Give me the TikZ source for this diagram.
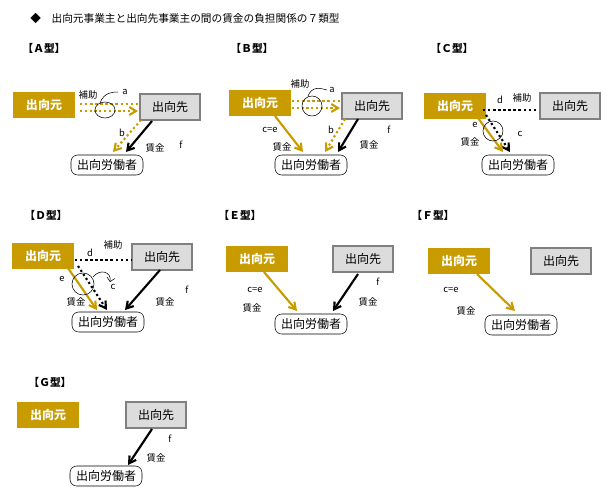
\documentclass[tikz,border=0pt]{standalone}
\usepackage{fontspec}
\setmainfont{Noto Sans CJK JP}
\usetikzlibrary{positioning,arrows.meta}
\definecolor{gold}{HTML}{C89B00}
\definecolor{sakigray}{HTML}{DCDCDC}
\tikzset{
  moto/.style={fill=gold,text=white,font=\bfseries\fontsize{9}{9}\selectfont,minimum width=46.5pt,minimum height=19pt,inner sep=0pt},
  saki/.style={fill=sakigray,draw=gray,thick,font=\fontsize{9}{9}\selectfont,minimum width=45pt,minimum height=19.5pt,inner sep=0pt},
  rodo/.style={draw,rounded corners=5pt,font=\fontsize{9}{9}\selectfont,minimum width=54pt,minimum height=15pt,inner sep=0pt},
  lbl/.style={font=\fontsize{7}{7}\selectfont,inner sep=0pt},
  ttl/.style={font=\bfseries\fontsize{8}{8}\selectfont,inner sep=0pt},
  pay/.style={-{Straight Barb[length=5pt,width=6pt]},line width=1.6pt},
  hojo/.style={dotted,line width=1.8pt},
  ring/.style={thin},
}
\begin{document}
\begin{tikzpicture}[x=0.75pt,y=-0.75pt]
\useasboundingbox (0,0) rectangle (613,501);
\node[lbl,anchor=west,font=\fontsize{8}{8}\selectfont] (title) at (30,18) {◆\quad 出向元事業主と出向先事業主の間の賃金の負担関係の７類型};

% A
\node[ttl] (tA) at (44,48) {【Ａ型】};
\node[moto] (motoA) at (44,105) {出向元};
\node[saki] (sakiA) at (170,107) {出向先};
\node[rodo] (rodoA) at (107,165) {出向労働者};
\draw[hojo,gold] (80,104) -- (138,104);
\draw[hojo,gold,pay] (80,111) -- (138,111);
\draw[hojo,gold,pay] (141,120) -- (113,152);
\draw[pay] (152,121) -- (126,152);
\draw[ring] (105,110) ellipse (10 and 8);
\draw[ring] (100,103) .. controls (104,92) and (113,92) .. (118,92);
\node[lbl] (hojoA) at (88,95) {補助};
\node[lbl] (aA) at (125,92) {a};
\node[lbl] (bA) at (122,133) {b};
\node[lbl] (chinA) at (155,148) {賃金};
\node[lbl] (fA) at (181,145) {f};

% B
\node[ttl] (tB) at (252,48) {【Ｂ型】};
\node[moto] (motoB) at (260,103) {出向元};
\node[saki] (sakiB) at (372,106) {出向先};
\node[rodo] (rodoB) at (311,165) {出向労働者};
\draw[hojo,gold] (292,101) -- (340,101);
\draw[hojo,gold,pay] (292,108) -- (340,108);
\draw[hojo,gold,pay] (345,119) -- (325,152);
\draw[pay] (358,119) -- (338,152);
\draw[pay,gold] (275,116) -- (303,152);
\draw[ring] (312,106) ellipse (10 and 10);
\draw[ring] (308,96) .. controls (312,86) and (320,88) .. (327,90);
\node[lbl] (hojoB) at (300,84) {補助};
\node[lbl] (aB) at (332,90) {a};
\node[lbl] (bB) at (331,130) {b};
\node[lbl] (ceB) at (270,130) {c=e};
\node[lbl] (chinB1) at (282,147) {賃金};
\node[lbl] (chinB2) at (369,145) {賃金};
\node[lbl] (fB) at (389,130) {f};

% C
\node[ttl] (tC) at (452,48) {【Ｃ型】};
\node[moto] (motoC) at (455,106) {出向元};
\node[saki] (sakiC) at (570,106) {出向先};
\node[rodo] (rodoC) at (518,165) {出向労働者};
\draw[hojo] (483,110) -- (537,110);
\draw[hojo,pay] (486,115) -- (510,152);
\draw[pay,gold] (478,118) -- (503,152);
\draw[ring] (493,131) circle (10);
\node[lbl] (dC) at (500,100) {d};
\node[lbl] (hojoC) at (522,98) {補助};
\node[lbl] (eC) at (475,125) {e};
\node[lbl] (chinC) at (470,142) {賃金};
\node[lbl] (cC) at (520,134) {c};

% D
\node[ttl] (tD) at (46,215) {【Ｄ型】};
\node[moto] (motoD) at (43,256) {出向元};
\node[saki] (sakiD) at (162,257) {出向先};
\node[rodo] (rodoD) at (108,322) {出向労働者};
\draw[hojo] (75,260) -- (132,260);
\draw[hojo,pay] (78,266) -- (107,310);
\draw[pay,gold] (68,268) -- (97,310);
\draw[pay] (160,270) -- (125,310);
\draw[ring] (83,284) circle (11);
\draw[ring,-{Straight Barb[length=3pt]}] (93,277) .. controls (100,268) and (112,272) .. (110,282);
\node[lbl] (dD) at (90,253) {d};
\node[lbl] (hojoD) at (113,245) {補助};
\node[lbl] (eD) at (62,279) {e};
\node[lbl] (cD) at (113,287) {c};
\node[lbl] (chinD1) at (76,302) {賃金};
\node[lbl] (chinD2) at (165,302) {賃金};
\node[lbl] (fD) at (187,290) {f};

% E
\node[ttl] (tE) at (240,215) {【Ｅ型】};
\node[moto] (motoE) at (257,259) {出向元};
\node[saki] (sakiE) at (363,259) {出向先};
\node[rodo] (rodoE) at (311,324) {出向労働者};
\draw[pay,gold] (264,272) -- (297,311);
\draw[pay] (358,274) -- (333,311);
\node[lbl] (ceE) at (255,290) {c=e};
\node[lbl] (chinE1) at (252,308) {賃金};
\node[lbl] (fE) at (378,282) {f};
\node[lbl] (chinE2) at (368,302) {賃金};

% F
\node[ttl] (tF) at (433,215) {【Ｆ型】};
\node[moto] (motoF) at (459,261) {出向元};
\node[saki] (sakiF) at (561,261) {出向先};
\node[rodo] (rodoF) at (521,325) {出向労働者};
\draw[pay,gold] (477,274) -- (515,311);
\node[lbl] (ceF) at (451,290) {c=e};
\node[lbl] (chinF) at (466,311) {賃金};

% G
\node[ttl] (tG) at (50,382) {【Ｇ型】};
\node[moto] (motoG) at (48,415) {出向元};
\node[saki] (sakiG) at (156,415) {出向先};
\node[rodo] (rodoG) at (106,476) {出向労働者};
\draw[pay] (152,429) -- (128,465);
\node[lbl] (fG) at (170,439) {f};
\node[lbl] (chinG) at (156,458) {賃金};
\end{tikzpicture}
\end{document}
